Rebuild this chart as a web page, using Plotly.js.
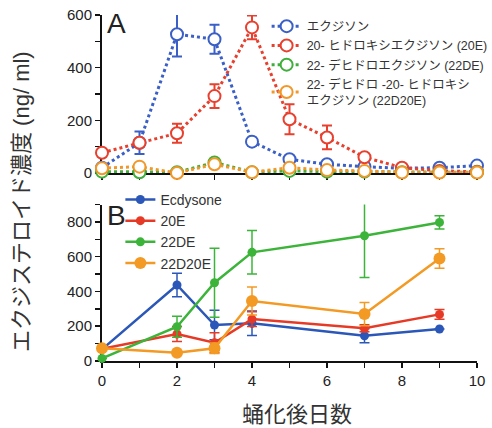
<!DOCTYPE html>
<html><head><meta charset="utf-8">
<script src="https://cdn.plot.ly/plotly-3.0.1.min.js"></script>
<style>html,body{margin:0;padding:0;background:#fff}#c{width:492px;height:428px}</style>
</head><body><div id="c"></div>
<script>
// Panel A data (open circles, dotted lines)
const daysA = [0,1,2,3,4,5,6,7,8,9,10];
const ecdA      = [20,115,527,508,119,52,33,24,18,20,28];
const ecdAErr   = [0,43,85,55,15,10,5,0,0,0,0];
const e20A      = [77,115,151,292,553,204,135,60,20,8,5];
const e20AErr   = [0,0,36,45,45,57,45,10,0,0,0];
const de22A     = [5,3,3,40,3,8,5,5,3,3,3];
const de22AErr  = [0,0,0,0,0,0,0,0,0,0,0];
const d20A      = [18,24,0,33,3,20,11,8,2,2,2];
const d20AErr   = [0,0,0,0,0,0,0,0,0,0,0];
// Panel B data (filled circles, solid lines)
const daysB = [0,2,3,4,7,9];
const ecdB      = [67,437,207,217,145,184];
const ecdBErr   = [0,68,85,70,40,0];
const e20B      = [70,155,105,241,188,268];
const e20BErr   = [0,43,57,42,20,28];
const de22B     = [15,197,450,625,720,797];
const de22BErr  = [0,60,198,125,240,38];
const d20B      = [73,48,73,345,270,590];
const d20BErr   = [0,0,30,80,67,56];

const namesA = ['エクジソン','20- ヒドロキシエクジソン (20E)','22- デヒドロエクジソン (22DE)','22- デヒドロ -20- ヒドロキシ<br>エクジソン (22D20E)'];
const namesB = ['Ecdysone','20E','22DE','22D20E'];
const xTicks = [0,1,2,3,4,5,6,7,8,9,10];
const xTickText = ['0','','2','','4','','6','','8','','10'];
const yATicks = [0,100,200,300,400,500,600];
const yATickText = ['0','','200','','400','','600'];
const yBTicks = [0,100,200,300,400,500,600,700,800,900];
const yBTickText = ['0','','200','','400','','600','','800',''];

const colA = ['#3a5fc6','#e8402e','#3fae3a','#f2982a'];
const colB = ['#2b57b8','#e63a26','#3cb43a','#f39a24'];

const FONT = 'Liberation Sans, Arial, "Noto Sans CJK JP", sans-serif';
const seriesA = [[ecdA,ecdAErr],[e20A,e20AErr],[de22A,de22AErr],[d20A,d20AErr]];
const seriesB = [[ecdB,ecdBErr],[e20B,e20BErr],[de22B,de22BErr],[d20B,d20BErr]];
const traces = [];
seriesA.forEach((s,i)=>{
  traces.push({x:daysA,y:s[0],type:'scatter',mode:'lines+markers',name:namesA[i],
    xaxis:'x',yaxis:'y',legend:'legend',cliponaxis:false,
    line:{color:colA[i],width:3,dash:'dot'},
    marker:{symbol:'circle',size:12,color:'#fff',line:{color:colA[i],width:2}},
    error_y:{type:'data',array:s[1],visible:true,color:colA[i],thickness:2,width:5}});
});
seriesB.forEach((s,i)=>{
  traces.push({x:daysB,y:s[0],type:'scatter',mode:'lines+markers',name:namesB[i],
    xaxis:'x2',yaxis:'y2',legend:'legend2',cliponaxis:false,
    line:{color:colB[i],width:2.5},
    marker:{symbol:'circle',size:i===3?12:9,color:colB[i]},
    error_y:{type:'data',array:s[1],visible:true,color:colB[i],thickness:1.5,width:5}});
});

const axBase = {showline:true,linecolor:'#111',linewidth:2,ticks:'outside',ticklen:5,tickwidth:1.5,tickcolor:'#111',
  showgrid:false,zeroline:false,layer:'below traces',tickfont:{family:FONT,size:15,color:'#222'}};
const layout = {
  width:492,height:428,margin:{l:102,r:15,t:15,b:67,autoexpand:false},
  paper_bgcolor:'#fff',plot_bgcolor:'#fff',showlegend:true,
  xaxis:Object.assign({},axBase,{range:[0,10],domain:[0,1],anchor:'y',tickmode:'array',tickvals:xTicks,ticktext:xTicks.map(()=>''),ticklen:5}),
  yaxis:Object.assign({},axBase,{range:[0,600],domain:[0.5434,1],anchor:'x',tickmode:'array',tickvals:yATicks,ticktext:yATickText}),
  xaxis2:Object.assign({},axBase,{range:[0,10],domain:[0,1],anchor:'y2',tickmode:'array',tickvals:xTicks,ticktext:xTickText}),
  yaxis2:Object.assign({},axBase,{range:[0,900],domain:[0,0.4523],anchor:'x2',tickmode:'array',tickvals:yBTicks,ticktext:yBTickText}),
  legend:{x:0.439,y:1.01,xanchor:'left',yanchor:'top',bgcolor:'rgba(0,0,0,0)',font:{family:FONT,size:12.5,color:'#333'},itemwidth:30,tracegroupgap:0},
  legend2:{x:0.049,y:0.512,xanchor:'left',yanchor:'top',bgcolor:'rgba(0,0,0,0)',font:{family:FONT,size:14,color:'#333'},itemwidth:30},
  annotations:[
    {text:'A',xref:'paper',yref:'paper',x:0.008,y:1.025,xanchor:'left',yanchor:'top',showarrow:false,font:{family:FONT,size:28,color:'#222'}},
    {text:'B',xref:'paper',yref:'paper',x:0.008,y:0.471,xanchor:'left',yanchor:'top',showarrow:false,font:{family:FONT,size:28,color:'#222'}},
    {text:'エクジステロイド濃度 (ng/ ml)',xref:'paper',yref:'paper',x:(22-102)/375,y:(361-202)/346,xanchor:'center',yanchor:'middle',textangle:-90,showarrow:false,font:{family:FONT,size:22,color:'#333'}},
    {text:'蛹化後日数',xref:'paper',yref:'paper',x:(297-102)/375,y:(361-414)/346,xanchor:'center',yanchor:'middle',showarrow:false,font:{family:FONT,size:22,color:'#333'}}
  ]
};
Plotly.newPlot('c',traces,layout,{displayModeBar:false,staticPlot:true});
</script></body></html>
